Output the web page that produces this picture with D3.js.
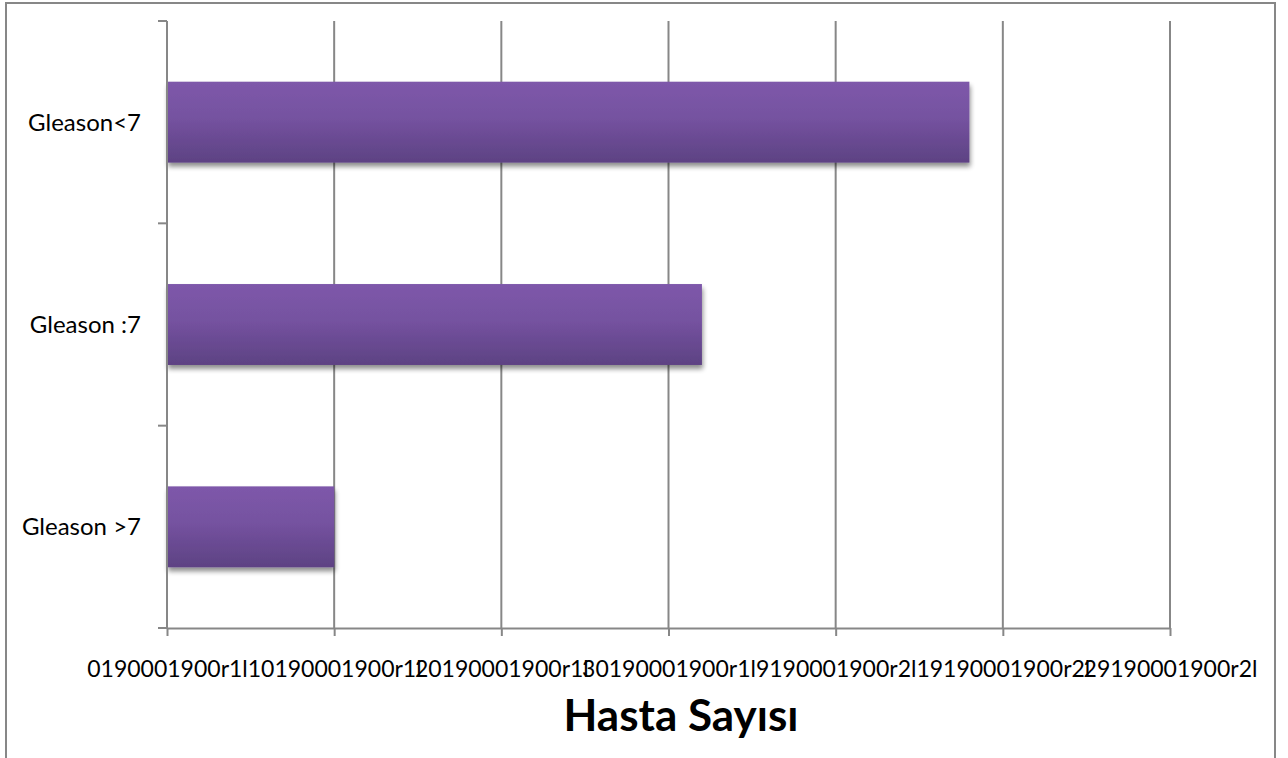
<!DOCTYPE html>
<html>
<head>
<meta charset="utf-8">
<script src="https://cdn.jsdelivr.net/npm/d3@7/dist/d3.min.js"></script>
<style>
  html, body { margin: 0; padding: 0; background: #fff; }
  svg { display: block; }
  text { font-family: Lato, "Open Sans", sans-serif; fill: #000; }
</style>
</head>
<body>
<svg id="chart" width="1288" height="758"></svg>
<script>
// Patient counts by Gleason score group
const categories = ["Gleason<7", "Gleason :7", "Gleason >7"];
const patientCounts = [48, 32, 10];
const tickValues = [0, 10, 20, 30, 40, 50, 60];
const tickLabels = [
  "0190001900r1l", "10190001900r1l", "20190001900r1l", "30190001900r1l",
  "9190001900r2l", "19190001900r2l", "29190001900r2l"
];
const axisTitle = "Hasta Sayısı";

const svg = d3.select("#chart");
const plot = { left: 167, right: 1170, top: 21, bottom: 628 };
const gray = "#878787";

// outer frame (runs off the bottom edge)
svg.append("rect")
  .attr("x", 6).attr("y", 3)
  .attr("width", 1269).attr("height", 800)
  .attr("fill", "#fff")
  .attr("stroke", gray).attr("stroke-width", 2);

const x = d3.scaleLinear().domain([0, 60]).range([plot.left, plot.right]);
const y = d3.scaleBand().domain(categories).range([plot.top, plot.bottom])
  .paddingInner(0.6).paddingOuter(0.3);
const yBounds = d3.scaleLinear().domain([0, categories.length]).range([plot.top, plot.bottom]);

const defs = svg.append("defs");
const grad = defs.append("linearGradient")
  .attr("id", "barFill").attr("x1", 0).attr("y1", 0).attr("x2", 0).attr("y2", 1);
grad.append("stop").attr("offset", "0%").attr("stop-color", "#7E58AA");
grad.append("stop").attr("offset", "45%").attr("stop-color", "#7552A0");
grad.append("stop").attr("offset", "100%").attr("stop-color", "#5D4283");

const shadow = defs.append("filter").attr("id", "barShadow")
  .attr("x", "-5%").attr("y", "-20%").attr("width", "115%").attr("height", "160%");
shadow.append("feGaussianBlur").attr("in", "SourceAlpha").attr("stdDeviation", 2.5).attr("result", "b");
shadow.append("feOffset").attr("in", "b").attr("dx", 1).attr("dy", 4).attr("result", "o");
shadow.append("feComponentTransfer").attr("in", "o").attr("result", "s")
  .append("feFuncA").attr("type", "linear").attr("slope", 0.45);
const merge = shadow.append("feMerge");
merge.append("feMergeNode").attr("in", "s");
merge.append("feMergeNode").attr("in", "SourceGraphic");

// vertical gridlines
svg.append("g").selectAll("line")
  .data(tickValues.slice(1))
  .join("line")
  .attr("x1", d => x(d)).attr("x2", d => x(d))
  .attr("y1", plot.top).attr("y2", plot.bottom)
  .attr("stroke", gray).attr("stroke-width", 2);

// bars
svg.append("g").selectAll("rect")
  .data(categories.map((c, i) => ({ c, v: patientCounts[i] })))
  .join("rect")
  .attr("x", x(0))
  .attr("y", d => y(d.c))
  .attr("width", d => x(d.v) - x(0))
  .attr("height", y.bandwidth())
  .attr("fill", "url(#barFill)")
  .attr("filter", "url(#barShadow)");

// x axis
const xAxis = d3.axisBottom(x)
  .tickValues(tickValues)
  .tickFormat((d, i) => tickLabels[i])
  .tickSizeInner(8).tickSizeOuter(0).tickPadding(25);
const gx = svg.append("g").attr("transform", `translate(0,${plot.bottom})`).call(xAxis);
gx.select(".domain").attr("stroke", gray).attr("stroke-width", 2);
gx.selectAll(".tick line").attr("stroke", gray).attr("stroke-width", 2);
gx.selectAll(".tick text")
  .attr("font-family", "Lato, sans-serif").attr("font-size", 23).attr("fill", "#000");

// y axis: line plus ticks at category boundaries
const gy = svg.append("g");
gy.append("line")
  .attr("x1", plot.left).attr("x2", plot.left)
  .attr("y1", plot.top).attr("y2", plot.bottom)
  .attr("stroke", gray).attr("stroke-width", 2);
gy.selectAll("line.tk")
  .data(d3.range(categories.length + 1))
  .join("line").attr("class", "tk")
  .attr("x1", plot.left - 9).attr("x2", plot.left)
  .attr("y1", d => yBounds(d)).attr("y2", d => yBounds(d))
  .attr("stroke", gray).attr("stroke-width", 2);
gy.selectAll("text")
  .data(categories)
  .join("text")
  .attr("x", 141)
  .attr("y", d => y(d) + y.bandwidth() / 2)
  .attr("dy", "0.35em")
  .attr("text-anchor", "end")
  .attr("font-size", 24)
  .text(d => d);

// axis title
svg.append("text")
  .attr("x", 681).attr("y", 731)
  .attr("text-anchor", "middle")
  .attr("font-size", 44).attr("font-weight", "bold")
  .text(axisTitle);
</script>
</body>
</html>
